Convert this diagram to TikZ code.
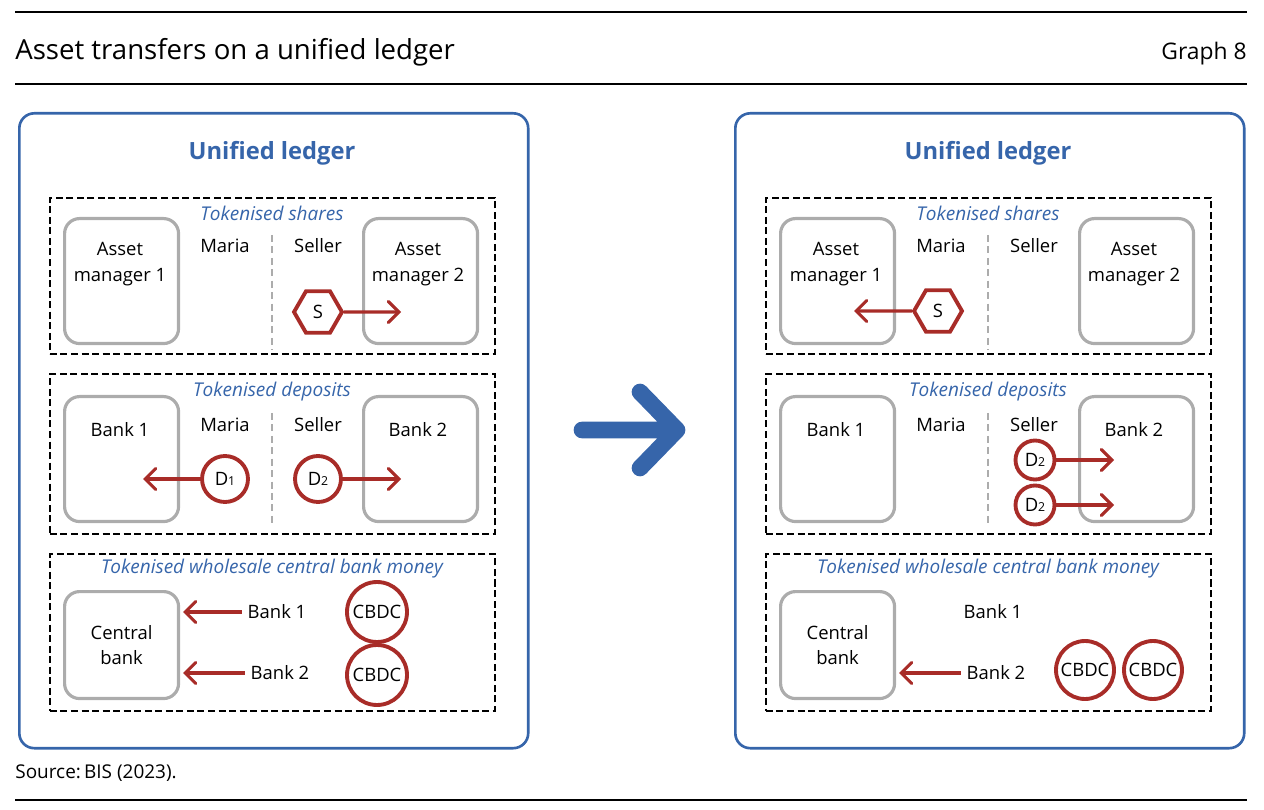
\documentclass[tikz,border=0pt]{standalone}
\usepackage{fontspec}
\setmainfont{Open Sans}
\usetikzlibrary{arrows.meta,shapes.geometric}
\definecolor{bisblue}{RGB}{54,101,170}
\definecolor{bisred}{RGB}{168,44,40}
\definecolor{boxgray}{RGB}{172,172,172}
\newcommand{\tsub}[1]{{\fontsize{7}{7}\selectfont #1}}

\begin{document}
\begin{tikzpicture}[x=0.02cm,y=-0.02cm,
	rule/.style={line width=1.1pt},
	panel/.style={draw=bisblue,line width=1.5pt,rounded corners=0.3cm,minimum width=10.18cm,minimum height=12.7cm,anchor=north west},
	ledger/.style={text=bisblue,font=\fontsize{13.5}{16}\selectfont\bfseries},
	layer/.style={draw,dash pattern=on 4pt off 2pt,line width=1pt,minimum width=8.9cm,anchor=north west},
	layertitle/.style={text=bisblue,font=\fontsize{10.8}{13}\selectfont\itshape,inner sep=0pt},
	inst/.style={draw=boxgray,line width=1.8pt,rounded corners=0.3cm,minimum width=2.28cm,minimum height=2.5cm,anchor=north west,align=center,font=\fontsize{10.5}{14.7}\selectfont},
	lbl/.style={font=\fontsize{10.5}{14.7}\selectfont,align=center},
	divider/.style={draw=boxgray,line width=1.3pt,dash pattern=on 4pt off 2.5pt},
	token/.style={circle,draw=bisred,line width=2.2pt,minimum size=0.92cm,inner sep=0pt,font=\fontsize{10.5}{12}\selectfont},
	cbdc/.style={token,minimum size=1.2cm},
	share/.style={regular polygon,regular polygon sides=6,draw=bisred,line width=2.2pt,minimum size=0.96cm,inner sep=0pt,font=\fontsize{10.5}{12}\selectfont},
	move/.style={draw=bisred,line width=1.8pt,-{Straight Barb[length=6pt,width=12pt,line cap=round]}}
	]
	\useasboundingbox (0,0) rectangle (1264,810);
	\draw[rule] (15,12) -- (1247,12);
	\draw[rule] (15,84) -- (1247,84);
	\draw[rule] (15,800) -- (1247,800);
	\node[anchor=base west,inner sep=0pt,font=\fontsize{15.7}{18}\selectfont] (graphtitle) at (15,60) {Asset transfers on a unified ledger};
	\node[anchor=base east,inner sep=0pt,font=\fontsize{13}{16}\selectfont] (graphno) at (1247,60) {Graph 8};
	\node[anchor=base west,inner sep=0pt,font=\fontsize{10.8}{13}\selectfont] (source) at (15,778) {Source:\,BIS (2023).};

	% the two ledgers
	\foreach \dx/\p in {0/L,716/R}{
		\node[panel] (panel\p) at (18+\dx,112) {};
		\node[ledger] (ledger\p) at (272+\dx,153) {Unified ledger};

		\node[layer,minimum height=3.12cm] (shares\p) at (49+\dx,197) {};
		\node[layertitle] (sharestitle\p) at (272+\dx,213) {Tokenised shares};
		\node[inst] (amA\p) at (63+\dx,217) {};
		\node[inst] (amB\p) at (362+\dx,217) {};
		\node[lbl] (amAtext\p) at (120+\dx,264) {Asset\\manager 1};
		\node[lbl] (amBtext\p) at (418+\dx,264) {Asset\\manager 2};
		\node[lbl] (mariaS\p) at (225+\dx,246) {Maria};
		\node[lbl] (sellerS\p) at (318+\dx,246) {Seller};
		\draw[divider] (272+\dx,235) -- (272+\dx,350);

		\node[layer,minimum height=3.2cm] (deposits\p) at (49+\dx,373) {};
		\node[layertitle] (depositstitle\p) at (272+\dx,392) {Tokenised deposits};
		\node[inst] (bankA\p) at (63+\dx,395) {};
		\node[inst] (bankB\p) at (362+\dx,395) {};
		\node[lbl] (bankAtext\p) at (120+\dx,430) {Bank 1};
		\node[lbl] (bankBtext\p) at (418+\dx,430) {Bank 2};
		\node[lbl] (mariaD\p) at (225+\dx,425) {Maria};
		\node[lbl] (sellerD\p) at (318+\dx,425) {Seller};
		\draw[divider] (272+\dx,413) -- (272+\dx,526);

		\node[layer,minimum height=3.14cm] (wholesale\p) at (49+\dx,553) {};
		\node[layertitle] (wholesaletitle\p) at (272+\dx,569) {Tokenised wholesale central bank money};
		\node[inst,minimum height=2.14cm] (cb\p) at (63+\dx,590) {Central\\bank};
		\node[lbl] (wbA\p) at (277+\dx,612) {Bank 1};
		\node[lbl] (wbB\p) at (280+\dx,673) {Bank 2};
		\coordinate (cbinA\p) at (183+\dx,612);
		\coordinate (cbinB\p) at (183+\dx,673);
	}

	% before
	\node[share] (sL) at (318,312) {S};
	\coordinate (sendL) at (401,312);
	\draw[move] (sL) -- (sendL);
	\node[token] (dAL) at (225,479) {D\tsub{1}};
	\coordinate (dAendL) at (143,479);
	\draw[move] (dAL) -- (dAendL);
	\node[token] (dBL) at (318,479) {D\tsub{2}};
	\coordinate (dBendL) at (401,479);
	\draw[move] (dBL) -- (dBendL);
	\draw[move] (wbAL.west) -- (cbinAL);
	\draw[move] (wbBL.west) -- (cbinBL);
	\node[cbdc] (cbdcAL) at (377,612) {CBDC};
	\node[cbdc] (cbdcBL) at (377,675) {CBDC};

	\draw[bisblue,line width=9.5pt,line cap=round,line join=round] (582,430) -- (677,430) (640,392) -- (677,430) -- (640,468);

	% after
	\node[share] (sR) at (938,311) {S};
	\coordinate (sendR) at (854,311);
	\draw[move] (sR) -- (sendR);
	\node[token,minimum size=0.78cm] (dAR) at (1035,460) {D\tsub{2}};
	\coordinate (dAendR) at (1114,460);
	\draw[move] (dAR) -- (dAendR);
	\node[token,minimum size=0.78cm] (dBR) at (1035,505) {D\tsub{2}};
	\coordinate (dBendR) at (1114,505);
	\draw[move] (dBR) -- (dBendR);
	\draw[move] (wbBR.west) -- (cbinBR);
	\node[cbdc,minimum size=1.16cm] (cbdcAR) at (1085,670) {CBDC};
	\node[cbdc,minimum size=1.16cm] (cbdcBR) at (1153,670) {CBDC};
\end{tikzpicture}
\end{document}
